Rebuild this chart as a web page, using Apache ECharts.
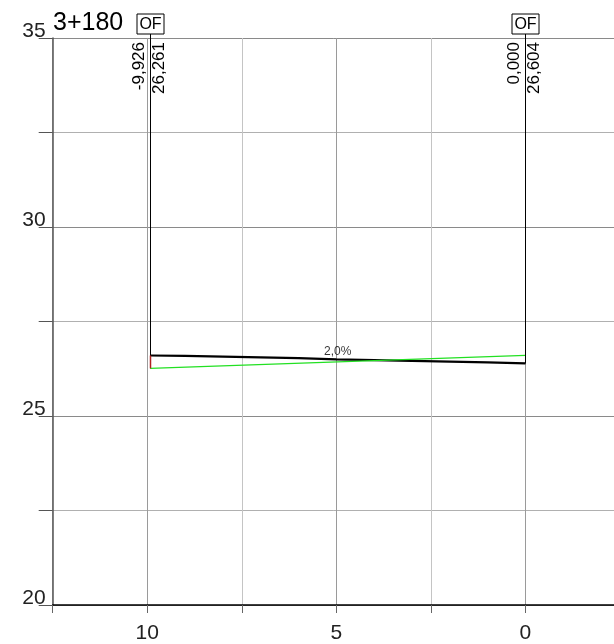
<!DOCTYPE html>
<html>
<head>
<meta charset="utf-8">
<script src="https://cdn.jsdelivr.net/npm/echarts@6/dist/echarts.min.js"></script>
<style>html,body{margin:0;padding:0;background:#fff}#c{width:614px;height:644px}</style>
</head>
<body>
<div id="c"></div>
<script>
// ---- data ----
var titleText = '3+180';
var xMin = -2.5, xMax = 12.5, xStep = 2.5;
var yMin = 20, yMax = 35, yStep = 2.5;
// design line (green)
var designX = [9.926, 0];
var designY = [26.261, 26.604];
var slopeText = '2,0%';
// terrain line (black)
var terrainX = [9.926, 9.0, 8.0, 7.0, 6.0, 5.0, 4.0, 3.0, 2.0, 1.0, 0.0];
var terrainY = [26.60, 26.59, 26.57, 26.55, 26.53, 26.50, 26.48, 26.46, 26.44, 26.42, 26.39];
// stations (vertical markers)
var stationX = [9.926, 0];
var stationDesign = [26.261, 26.604];
var stationTerrain = [26.60, 26.39];
var stationOffsetLabels = ['-9,926', '0,000'];
var stationElevLabels = ['26,261', '26,604'];
var stationBoxLabel = 'OF';

var FONT = 'Liberation Sans';
var chart = echarts.init(document.getElementById('c'), null, {renderer: 'canvas'});

function zip(a, b) { return a.map(function (v, i) { return [v, b[i]]; }); }
function isMult5(v) { return Math.abs(v / 5 - Math.round(v / 5)) < 1e-9; }

var midX = (designX[0] + designX[1]) / 2;
var midY = (designY[0] + designY[1]) / 2;

var option = {
  animation: false,
  backgroundColor: '#fff',
  title: {
    text: titleText, left: 53, top: 11, padding: 0,
    textStyle: {fontFamily: FONT, fontSize: 25, fontWeight: 'normal', color: '#000'}
  },
  grid: {left: 52.7, top: 38, width: 567.3, height: 567, containLabel: false, outerBoundsMode: 'none'},
  xAxis: {
    type: 'value', inverse: true, min: xMin, max: xMax, interval: xStep,
    axisLine: {show: true, onZero: false, lineStyle: {color: '#000', width: 1.5}},
    axisTick: {show: true, length: 8, lineStyle: {color: '#666', width: 1}},
    axisLabel: {
      margin: 18, fontFamily: FONT, fontSize: 21, color: '#222',
      showMinLabel: true, showMaxLabel: true,
      formatter: function (v) { return isMult5(v) ? String(Math.abs(v)) : ''; }
    },
    splitLine: {show: true, lineStyle: {color: ['#c4c4c4', '#9a9a9a'], width: 1}}
  },
  yAxis: {
    type: 'value', min: yMin, max: yMax, interval: yStep,
    axisLine: {show: true, onZero: false, lineStyle: {color: '#555', width: 1.5}},
    axisTick: {show: true, length: 14, lineStyle: {color: '#555', width: 1}},
    axisLabel: {
      margin: 7, fontFamily: FONT, fontSize: 21, color: '#222',
      verticalAlign: 'bottom', lineHeight: 14,
      showMinLabel: true, showMaxLabel: true,
      formatter: function (v) { return isMult5(v) ? String(v) : ''; }
    },
    splitLine: {show: true, lineStyle: {color: ['#8a8a8a', '#b0b0b0'], width: 1}}
  },
  series: [
    {
      name: 'terrain', type: 'line', data: zip(terrainX, terrainY),
      symbol: 'none', lineStyle: {color: '#000', width: 2.2}, z: 3
    },
    {
      name: 'design', type: 'line', data: zip(designX, designY),
      symbol: 'none', lineStyle: {color: '#22e022', width: 1.2}, z: 4
    },
    {
      name: 'slope', type: 'scatter', data: [[midX, midY]], symbolSize: 0, z: 5,
      label: {show: true, position: 'top', distance: 4, formatter: slopeText,
        fontFamily: FONT, fontSize: 12, color: '#000'}
    },
    {
      name: 'stations', type: 'custom', coordinateSystem: 'cartesian2d', z: 6,
      data: stationX.map(function (x) { return [x, yMax]; }),
      renderItem: function (params, api) {
        var i = params.dataIndex;
        var x = api.value(0);
        var top = api.coord([x, yMax]);
        var pT = api.coord([x, stationTerrain[i]]);
        var pD = api.coord([x, stationDesign[i]]);
        var cx = Math.round(top[0]) + 0.5;
        var children = [
          {type: 'line', shape: {x1: cx, y1: top[1] - 4, x2: cx, y2: pT[1]},
            style: {stroke: '#000', lineWidth: 1}},
          {type: 'rect', shape: {x: cx - 13.5, y: top[1] - 24, width: 27, height: 20},
            style: {fill: '#fff', stroke: '#000', lineWidth: 1}},
          {type: 'text', x: cx, y: top[1] - 13.5,
            style: {text: stationBoxLabel, align: 'center', verticalAlign: 'middle',
              fontFamily: FONT, fontSize: 16, fill: '#000'}},
          {type: 'text', x: cx - 11, y: top[1] + 4, rotation: Math.PI / 2,
            style: {text: stationOffsetLabels[i], align: 'right', verticalAlign: 'middle',
              fontFamily: FONT, fontSize: 17, fill: '#000'}},
          {type: 'text', x: cx + 9, y: top[1] + 4, rotation: Math.PI / 2,
            style: {text: stationElevLabels[i], align: 'right', verticalAlign: 'middle',
              fontFamily: FONT, fontSize: 17, fill: '#000'}}
        ];
        if (stationDesign[i] < stationTerrain[i]) {
          children.push({type: 'line', shape: {x1: cx, y1: pT[1], x2: cx, y2: pD[1]},
            style: {stroke: '#b02020', lineWidth: 1.5}});
        }
        return {type: 'group', children: children};
      }
    }
  ]
};
chart.setOption(option);
</script>
</body>
</html>
